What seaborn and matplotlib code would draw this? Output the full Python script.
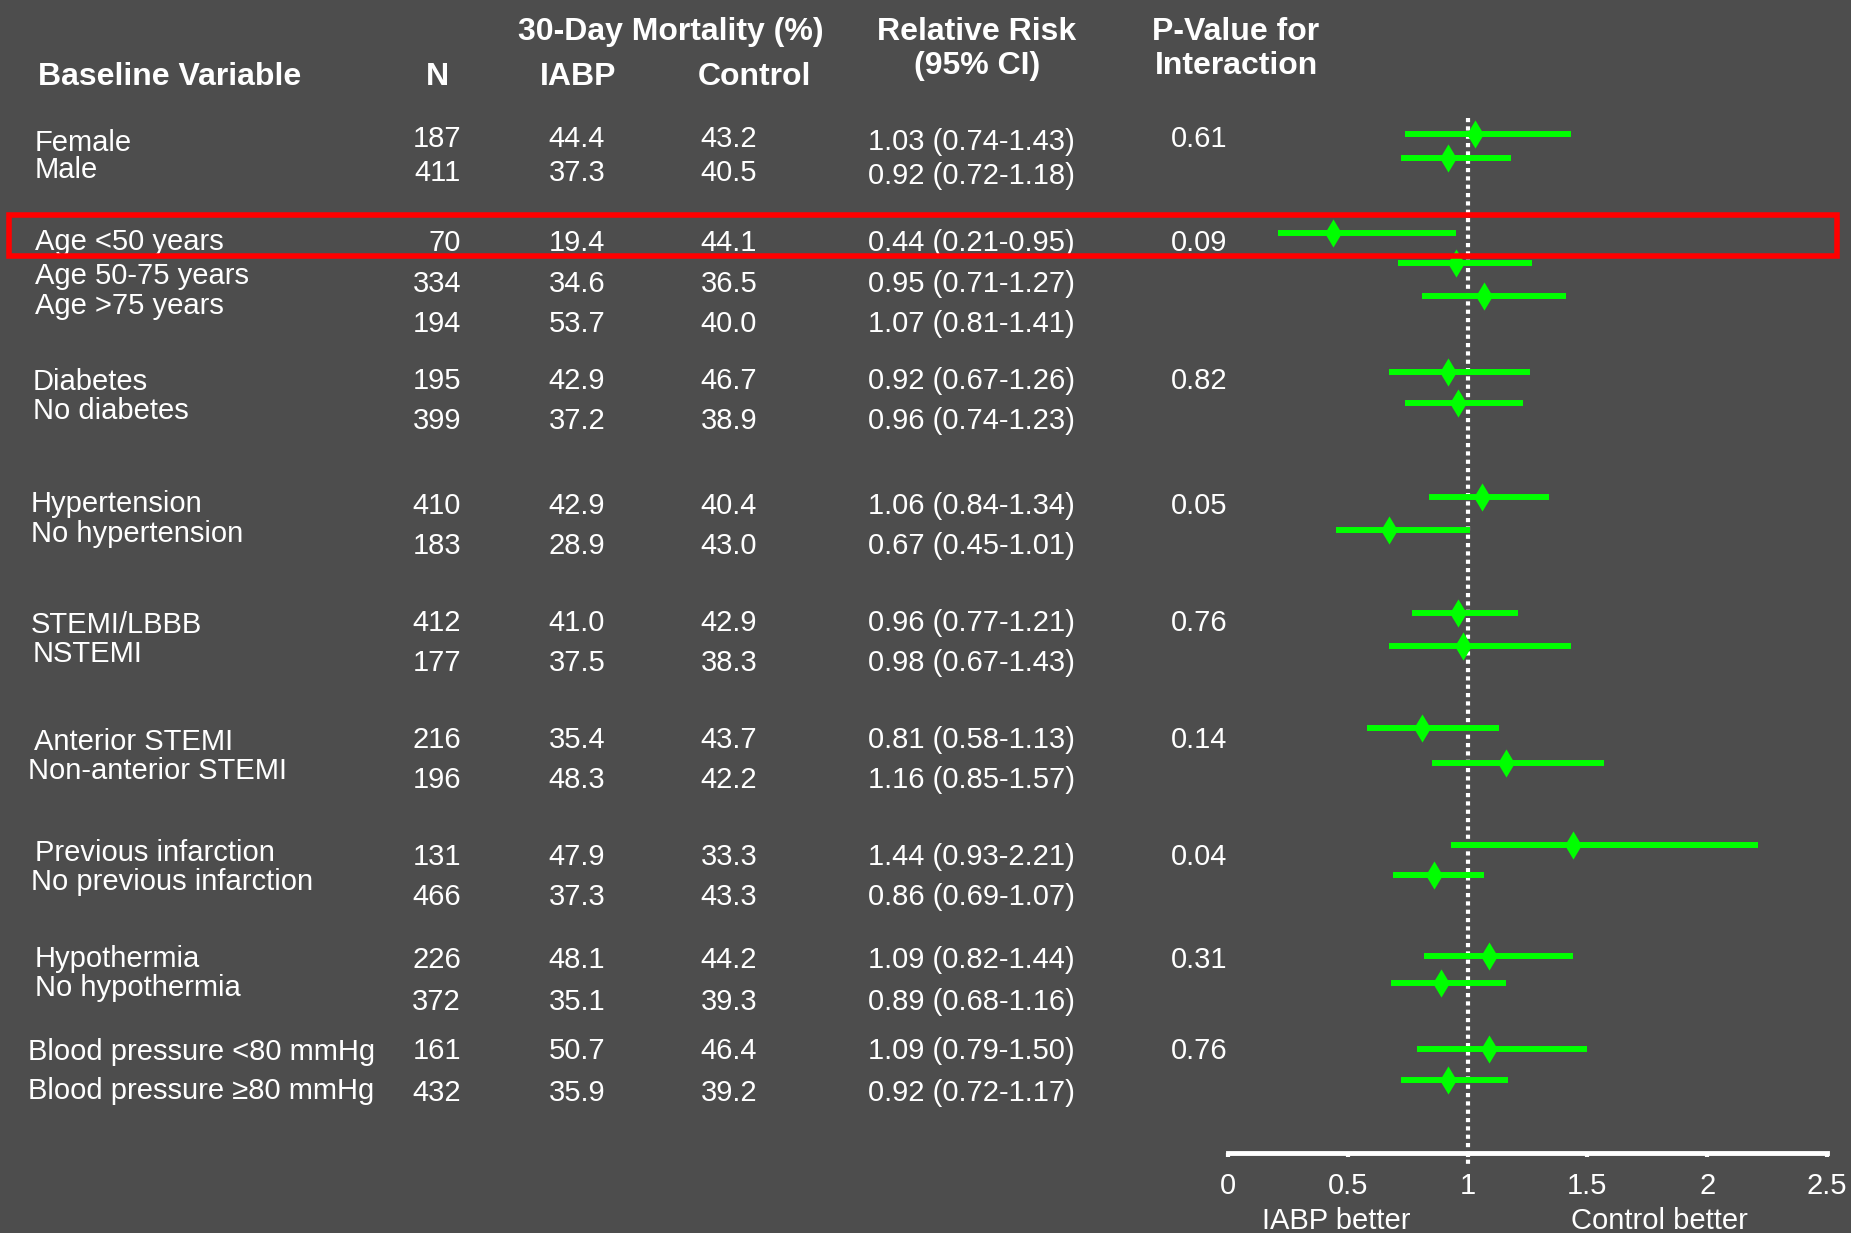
import matplotlib
matplotlib.use("Agg")
import matplotlib.pyplot as plt
import seaborn as sns
import pandas as pd
from matplotlib.patches import Rectangle

# Subgroup data
labels = ["Female", "Male", "Age <50 years", "Age 50-75 years", "Age >75 years",
          "Diabetes", "No diabetes", "Hypertension", "No hypertension",
          "STEMI/LBBB", "NSTEMI", "Anterior STEMI", "Non-anterior STEMI",
          "Previous infarction", "No previous infarction", "Hypothermia", "No hypothermia",
          "Blood pressure <80 mmHg", "Blood pressure \u226580 mmHg"]
n_pat = [187, 411, 70, 334, 194, 195, 399, 410, 183, 412, 177, 216, 196, 131, 466, 226, 372, 161, 432]
iabp = [44.4, 37.3, 19.4, 34.6, 53.7, 42.9, 37.2, 42.9, 28.9, 41.0, 37.5, 35.4, 48.3, 47.9, 37.3,
        48.1, 35.1, 50.7, 35.9]
control = [43.2, 40.5, 44.1, 36.5, 40.0, 46.7, 38.9, 40.4, 43.0, 42.9, 38.3, 43.7, 42.2, 33.3, 43.3,
           44.2, 39.3, 46.4, 39.2]
rr = [1.03, 0.92, 0.44, 0.95, 1.07, 0.92, 0.96, 1.06, 0.67, 0.96, 0.98, 0.81, 1.16, 1.44, 0.86,
      1.09, 0.89, 1.09, 0.92]
ci_lo = [0.74, 0.72, 0.21, 0.71, 0.81, 0.67, 0.74, 0.84, 0.45, 0.77, 0.67, 0.58, 0.85, 0.93, 0.69,
         0.82, 0.68, 0.79, 0.72]
ci_hi = [1.43, 1.18, 0.95, 1.27, 1.41, 1.26, 1.23, 1.34, 1.01, 1.21, 1.43, 1.13, 1.57, 2.21, 1.07,
         1.44, 1.16, 1.50, 1.17]
p_interaction = ["0.61", "0.09", "0.82", "0.05", "0.76", "0.14", "0.04", "0.31", "0.76"]
p_rows = [0, 2, 5, 7, 9, 11, 13, 15, 17]
x_ticks = [0, 0.5, 1, 1.5, 2, 2.5]
x_ticklabels = ["0", "0.5", "1", "1.5", "2", "2.5"]

# Layout (pixel rows, top = 0)
bar_y = [134, 158, 233, 263, 296, 372, 403, 497, 530, 613, 646, 728, 763, 845, 875, 956, 983, 1049, 1080]
label_y = [151, 178, 250, 284, 314, 390, 419, 512, 542, 633, 662, 750, 779, 861, 890, 967, 996, 1060, 1099]
label_x = [35, 35, 35, 35, 35, 33, 33, 31, 31, 31, 33, 34, 28, 35, 31, 35, 35, 28, 28]
num_y = [147, 181, 251, 292, 332, 389, 429, 514, 554, 631, 671, 748, 788, 865, 905, 968, 1010, 1059, 1101]
rr_y = [150, 184] + num_y[2:]

W, H = 1851, 1233
BG = "#4d4d4d"
GREEN = "#00ff00"

sns.set_theme(style="dark", rc={"axes.facecolor": BG, "figure.facecolor": BG,
                                "savefig.facecolor": BG})
plt.rcParams["font.family"] = ["Liberation Sans", "DejaVu Sans"]

fig = plt.figure(figsize=(W / 100, H / 100), dpi=100)

# forest plot axes
axis_y = 1153
x0, x1 = 1228, 1827
ax = fig.add_axes([x0 / W, (H - axis_y) / H, (x1 - x0) / W, axis_y / H])
ax.set_facecolor(BG)

ax.vlines(1, 118, 1165, colors="white", linestyles=(0, (1, 1)), lw=3, zorder=1, clip_on=False)
ax.hlines(bar_y, ci_lo, ci_hi, colors=GREEN, lw=4.3, zorder=2, capstyle="butt")
df = pd.DataFrame({"rr": rr, "y": bar_y})
sns.scatterplot(data=df, x="rr", y="y", ax=ax, marker="d", s=205, color=GREEN,
                edgecolor=GREEN, linewidth=0, zorder=4, clip_on=False)

ax.set_xlim(0, 2.5)
ax.set_ylim(axis_y, 0)
ax.set_xlabel("")
ax.set_ylabel("")
ax.set_xticks(x_ticks)
ax.set_xticklabels(x_ticklabels)
ax.set_yticks([])
for s in ["top", "left", "right"]:
    ax.spines[s].set_visible(False)
ax.spines["bottom"].set_color("white")
ax.spines["bottom"].set_linewidth(3.5)
ax.tick_params(axis="x", direction="out", length=3, width=3, color="white",
               labelsize=21, labelcolor="white", pad=11, bottom=True)
ax.grid(False)
ax.text(0.45, 1229, "IABP better", color="white", fontsize=21, ha="center", va="baseline")
ax.text(1.8, 1229, "Control better", color="white", fontsize=21, ha="center", va="baseline")

# table overlay in pixel coordinates
tb = fig.add_axes([0, 0, 1, 1], zorder=5)
tb.set_xlim(0, W)
tb.set_ylim(H, 0)
tb.axis("off")
tb.patch.set_alpha(0)

hdr = dict(color="white", fontsize=23, fontweight="bold", va="baseline")
tb.text(38, 85, "Baseline Variable", ha="left", **hdr)
tb.text(437, 85, "N", ha="center", **hdr)
tb.text(578, 85, "IABP", ha="center", **hdr)
tb.text(754, 85, "Control", ha="center", **hdr)
tb.text(671, 40, "30-Day Mortality (%)", ha="center", **hdr)
tb.text(977, 40, "Relative Risk", ha="center", **hdr)
tb.text(977, 74, "(95% CI)", ha="center", **hdr)
tb.text(1236, 40, "P-Value for", ha="center", **hdr)
tb.text(1236, 74, "Interaction", ha="center", **hdr)

cell = dict(color="white", fontsize=21, va="baseline")
for i, lab in enumerate(labels):
    tb.text(label_x[i], label_y[i], lab, ha="left", **cell)
    tb.text(461, num_y[i], str(n_pat[i]), ha="right", **cell)
    tb.text(577, num_y[i], f"{iabp[i]:.1f}", ha="center", **cell)
    tb.text(729, num_y[i], f"{control[i]:.1f}", ha="center", **cell)
    tb.text(868, rr_y[i], f"{rr[i]:.2f} ({ci_lo[i]:.2f}-{ci_hi[i]:.2f})", ha="left", **cell)
for r, p in zip(p_rows, p_interaction):
    tb.text(1171, num_y[r], p, ha="left", **cell)

tb.add_patch(Rectangle((8.5, 215), 1836.5 - 8.5, 256 - 215, fill=False,
                       edgecolor="red", lw=4, zorder=10))

fig.savefig("out.png", dpi=100, facecolor=BG)
